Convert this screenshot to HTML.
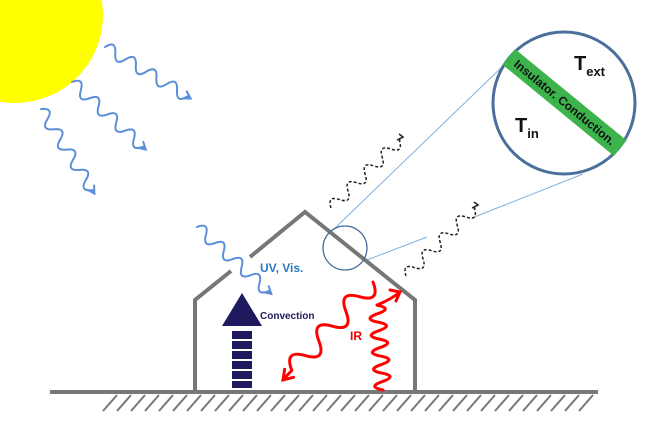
<!DOCTYPE html>
<html><head><meta charset="utf-8"><style>
html,body{margin:0;padding:0;background:#fff;}
svg{display:block;}
text{font-family:"Liberation Sans",sans-serif;font-weight:bold;}
</style></head><body>
<svg width="665" height="430" viewBox="0 0 665 430" xmlns="http://www.w3.org/2000/svg">
<circle cx="15" cy="15" r="88" fill="#ffff00"/>
<g fill="none" stroke="#5b8fd8" stroke-width="2" stroke-linecap="round">
<g transform="translate(105,47) rotate(31)"><path d="M0,0 q6,-12 12,0 t12,0 t12,0 t12,0 t12,0 t12,0 t12,0 t12,0 L100,0 M93,-4 L100,0 L93,4"/></g>
<g transform="translate(72,82) rotate(42.5)"><path d="M0,0 q6,-12 12,0 t12,0 t12,0 t12,0 t12,0 t12,0 t12,0 t12,0 L100,0 M93,-4 L100,0 L93,4"/></g>
<g transform="translate(41,109) rotate(57.7)"><path d="M0,0 q6,-12 12,0 t12,0 t12,0 t12,0 t12,0 t12,0 t12,0 t12,0 L100,0 M93,-4 L100,0 L93,4"/></g>
<g transform="translate(197,227) rotate(42)"><path d="M0,0 q6,-12 12,0 t12,0 t12,0 t12,0 t12,0 t12,0 t12,0 t12,0 L100,0 M93,-4 L100,0 L93,4"/></g>
</g>
<g stroke="#7fb0e0" stroke-width="1">
<line x1="333" y1="230" x2="503" y2="66"/>
<line x1="367" y1="260" x2="427" y2="237"/>
<line x1="472" y1="218" x2="583" y2="174"/>
</g>
<g fill="none" stroke="#222" stroke-width="1.5" stroke-dasharray="3 2">
<g transform="translate(331,208) rotate(-44.6)"><path d="M0,0 q6,-12 12,0 t12,0 t12,0 t12,0 t12,0 t12,0 t12,0 t12,0 L100,0"/></g>
<g transform="translate(406,276) rotate(-44.6)"><path d="M0,0 q6,-12 12,0 t12,0 t12,0 t12,0 t12,0 t12,0 t12,0 t12,0 L100,0"/></g>
</g>
<g fill="none" stroke="#222" stroke-width="1.5">
<path d="M397,140 L403,137 L399,134"/>
<path d="M472,208 L478,205 L474,202"/>
</g>
<g fill="none" stroke="#777" stroke-width="4">
<path d="M195,392 L195,300 L231,271"/>
<path d="M250,257 L305,212 L415,300 L415,392"/>
<line x1="50" y1="392" x2="598" y2="392"/>
</g>
<g stroke="#777" stroke-width="2">
<line x1="103" y1="411" x2="117" y2="395"/><line x1="117" y1="411" x2="131" y2="395"/><line x1="131" y1="411" x2="145" y2="395"/><line x1="145" y1="411" x2="159" y2="395"/><line x1="159" y1="411" x2="173" y2="395"/><line x1="173" y1="411" x2="187" y2="395"/><line x1="187" y1="411" x2="201" y2="395"/><line x1="201" y1="411" x2="215" y2="395"/><line x1="215" y1="411" x2="229" y2="395"/><line x1="229" y1="411" x2="243" y2="395"/><line x1="243" y1="411" x2="257" y2="395"/><line x1="257" y1="411" x2="271" y2="395"/><line x1="271" y1="411" x2="285" y2="395"/><line x1="285" y1="411" x2="299" y2="395"/><line x1="299" y1="411" x2="313" y2="395"/><line x1="313" y1="411" x2="327" y2="395"/><line x1="327" y1="411" x2="341" y2="395"/><line x1="341" y1="411" x2="355" y2="395"/><line x1="355" y1="411" x2="369" y2="395"/><line x1="369" y1="411" x2="383" y2="395"/><line x1="383" y1="411" x2="397" y2="395"/><line x1="397" y1="411" x2="411" y2="395"/><line x1="411" y1="411" x2="425" y2="395"/><line x1="425" y1="411" x2="439" y2="395"/><line x1="439" y1="411" x2="453" y2="395"/><line x1="453" y1="411" x2="467" y2="395"/><line x1="467" y1="411" x2="481" y2="395"/><line x1="481" y1="411" x2="495" y2="395"/><line x1="495" y1="411" x2="509" y2="395"/><line x1="509" y1="411" x2="523" y2="395"/><line x1="523" y1="411" x2="537" y2="395"/><line x1="537" y1="411" x2="551" y2="395"/><line x1="551" y1="411" x2="565" y2="395"/><line x1="565" y1="411" x2="579" y2="395"/><line x1="579" y1="411" x2="593" y2="395"/>
</g>
<circle cx="345" cy="248" r="22" fill="none" stroke="#4a6f9a" stroke-width="1.3"/>
<g fill="#1f1a5e">
<polygon points="242,293 222,326 262,326"/>
<rect x="232" y="331" width="20" height="8"/>
<rect x="232" y="341" width="20" height="8"/>
<rect x="232" y="351" width="20" height="8"/>
<rect x="232" y="361" width="20" height="8"/>
<rect x="232" y="371" width="20" height="8"/>
<rect x="232" y="381" width="20" height="7"/>
</g>
<text x="260" y="319" font-size="10" fill="#1f1a5e">Convection</text>
<text x="260" y="272" font-size="12" fill="#2a78c2">UV, Vis.</text>
<text x="350" y="340" font-size="12" fill="#e00">IR</text>
<g fill="none" stroke="#f00" stroke-width="3" stroke-linecap="round">
<g transform="translate(373,282) rotate(132.6)"><path d="M0,0 q10,-20 20,0 t20,0 t20,0 t20,0 t20,0 t20,0 L133,0 M124,-6 L133,0 L124,6"/></g>
<g transform="translate(383,390) rotate(-94)"><path d="M0,0 q4.25,-16 8.5,0 t8.5,0 t8.5,0 t8.5,0 t8.5,0 t8.5,0 t8.5,0 t8.5,0 t8.5,0 t8.5,0"/></g>
<path d="M377,305 Q390,300 400,292 M390,290 L400,292 L396,301"/>
</g>
<circle cx="564" cy="103" r="71" fill="#fff" stroke="#4a6f9a" stroke-width="3"/>
<g transform="translate(564.5,102.5) rotate(39.3)">
<rect x="-72" y="-10" width="144" height="20" fill="#3cb44b"/>
<text x="0" y="4" font-size="12" fill="#111" text-anchor="middle">Insulator. Conduction.</text>
</g>
<text x="574" y="70" font-size="20" fill="#111">T<tspan font-size="13" dy="6">ext</tspan></text>
<text x="515" y="132" font-size="20" fill="#111">T<tspan font-size="13" dy="6">in</tspan></text>
</svg>
</body></html>
